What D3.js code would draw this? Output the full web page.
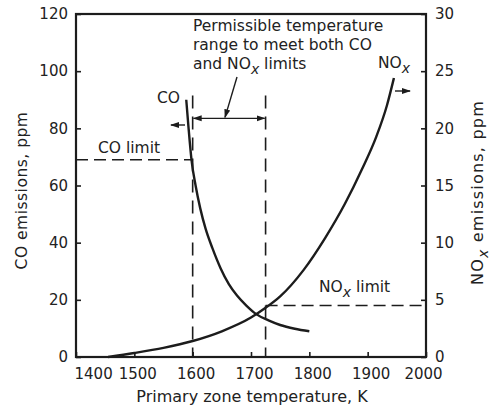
<!DOCTYPE html>
<html>
<head>
<meta charset="utf-8">
<script src="https://cdn.jsdelivr.net/npm/d3@7"></script>
<style>
body { margin: 0; background: #fff; }
text { font-family: "DejaVu Sans", sans-serif; fill: #222; }
</style>
</head>
<body>
<div id="chart"></div>
<script>
// CO emissions (ppm, left axis) vs primary zone temperature (K)
const coTemp = [1589, 1593, 1598, 1605, 1613, 1622, 1634, 1648, 1662, 1676, 1692, 1709, 1730, 1750, 1775, 1800];
const coPpm  = [90, 80, 69, 60, 52, 45, 38, 31, 25.5, 21.5, 18, 15, 12.8, 11.2, 9.9, 9];

// NOx emissions (ppm, right axis)
const noxTemp = [1455, 1500, 1550, 1600, 1650, 1700, 1725, 1750, 1790, 1827, 1861, 1890, 1915, 1933, 1945];
const noxPpm  = [0, 0.35, 0.8, 1.4, 2.25, 3.45, 4.3, 5.3, 7.6, 10.4, 13.4, 16.4, 19.3, 22.0, 24.4];

const xTicks   = [1400, 1500, 1600, 1700, 1800, 1900, 2000];
const coTicks  = [0, 20, 40, 60, 80, 100, 120];
const noxTicks = [0, 5, 10, 15, 20, 25, 30];

const coLimit = 69;
const noxLimit = 4.5;
const permissible = [1600, 1725];

const width = 493, height = 409;
const margin = {top: 14, right: 67, bottom: 52, left: 76};
const x0 = margin.left, x1 = width - margin.right;
const y0 = height - margin.bottom, y1 = margin.top;

const svg = d3.select("#chart").append("svg")
    .attr("width", width)
    .attr("height", height);

svg.append("rect").attr("width", width).attr("height", height).attr("fill", "#fff");

const x = d3.scaleLinear().domain([1400, 2000]).range([x0, x1]);
const yL = d3.scaleLinear().domain([0, 120]).range([y0, y1]);
const yR = d3.scaleLinear().domain([0, 30]).range([y0, y1]);

const ink = "#1c1c1c";

// arrowhead
svg.append("defs").append("marker")
    .attr("id", "arrow")
    .attr("viewBox", "0 -4 9 8")
    .attr("refX", 8).attr("refY", 0)
    .attr("markerWidth", 9).attr("markerHeight", 8)
    .attr("markerUnits", "userSpaceOnUse")
    .attr("orient", "auto-start-reverse")
    .append("path")
    .attr("d", "M0,-3L9,0L0,3Z")
    .attr("fill", ink);

// axes
function styleAxis(g) {
    g.select(".domain").remove();
    g.selectAll(".tick line").attr("stroke", ink).attr("stroke-width", 1.6);
    g.selectAll("text").attr("font-size", 15);
}

svg.append("g")
    .attr("transform", `translate(0,${y0})`)
    .call(d3.axisBottom(x).tickValues(xTicks).tickFormat(d3.format("d"))
        .tickSize(-5).tickSizeOuter(0).tickPadding(11))
    .call(styleAxis)
    .call(g => {
        g.selectAll(".tick text").attr("dx", 3);
        g.selectAll(".tick text").filter(d => d === 1400).attr("text-anchor", "start").attr("dx", -2);
        g.selectAll(".tick text").filter(d => d === 2000).attr("dx", -3);
    });

svg.append("g")
    .attr("transform", `translate(${x0},0)`)
    .call(d3.axisLeft(yL).tickValues(coTicks).tickSize(-5).tickSizeOuter(0).tickPadding(8))
    .call(styleAxis);

svg.append("g")
    .attr("transform", `translate(${x1},0)`)
    .call(d3.axisRight(yR).tickValues(noxTicks).tickSize(-5).tickSizeOuter(0).tickPadding(9))
    .call(styleAxis);

svg.append("rect")
    .attr("x", x0).attr("y", y1)
    .attr("width", x1 - x0).attr("height", y0 - y1)
    .attr("fill", "none").attr("stroke", ink).attr("stroke-width", 2.2);

// axis titles
svg.append("text")
    .attr("x", (x0 + x1) / 2 + 1).attr("y", 402)
    .attr("text-anchor", "middle")
    .attr("font-size", 16)
    .text("Primary zone temperature, K");

svg.append("text")
    .attr("transform", `translate(27,${(y0 + y1) / 2 + 5}) rotate(-90)`)
    .attr("text-anchor", "middle")
    .attr("font-size", 15.5)
    .attr("letter-spacing", 0.5)
    .text("CO emissions, ppm");

const rt = svg.append("text")
    .attr("transform", `translate(483,${(y0 + y1) / 2 + 7}) rotate(-90)`)
    .attr("text-anchor", "middle")
    .attr("font-size", 16)
    .attr("letter-spacing", 1.2);
rt.append("tspan").text("NO");
rt.append("tspan").attr("dy", 5).attr("font-size", 14).attr("font-style", "italic").text("x");
rt.append("tspan").attr("dy", -5).text(" emissions, ppm");

// limit lines
const crossT = (() => {
    for (let i = 1; i < coPpm.length; i++) {
        if (coPpm[i] <= coLimit) {
            const t = (coPpm[i - 1] - coLimit) / (coPpm[i - 1] - coPpm[i]);
            return coTemp[i - 1] + t * (coTemp[i] - coTemp[i - 1]);
        }
    }
})();

svg.append("line")
    .attr("x1", x0).attr("x2", x(crossT))
    .attr("y1", yL(coLimit)).attr("y2", yL(coLimit))
    .attr("stroke", ink).attr("stroke-width", 1.6).attr("stroke-dasharray", "12,6");

svg.append("line")
    .attr("x1", x(permissible[1])).attr("x2", x1)
    .attr("y1", yR(noxLimit)).attr("y2", yR(noxLimit))
    .attr("stroke", ink).attr("stroke-width", 1.6).attr("stroke-dasharray", "12,6");

// permissible range bounds
const dashTop = yL(91.5);
permissible.forEach(t => {
    svg.append("line")
        .attr("x1", x(t)).attr("x2", x(t))
        .attr("y1", dashTop).attr("y2", y0)
        .attr("stroke", ink).attr("stroke-width", 1.6).attr("stroke-dasharray", "13,8");
});

// curves
const line = d3.line().curve(d3.curveMonotoneX);

svg.append("path")
    .attr("d", line(coTemp.map((t, i) => [x(t), yL(coPpm[i])])))
    .attr("fill", "none").attr("stroke", ink).attr("stroke-width", 2.4);

svg.append("path")
    .attr("d", line(noxTemp.map((t, i) => [x(t), yR(noxPpm[i])])))
    .attr("fill", "none").attr("stroke", ink).attr("stroke-width", 2.4);

// annotations
const arrowY = yL(83.5);
svg.append("line")
    .attr("x1", x(permissible[0]) + 1).attr("x2", x(permissible[1]) - 1)
    .attr("y1", arrowY).attr("y2", arrowY)
    .attr("stroke", ink).attr("stroke-width", 1.4)
    .attr("marker-start", "url(#arrow)").attr("marker-end", "url(#arrow)");

svg.append("line")
    .attr("x1", 237).attr("y1", 77).attr("x2", 225).attr("y2", arrowY - 1)
    .attr("stroke", ink).attr("stroke-width", 1.4)
    .attr("marker-end", "url(#arrow)");

svg.append("line")
    .attr("x1", 185).attr("y1", 125).attr("x2", 171).attr("y2", 125)
    .attr("stroke", ink).attr("stroke-width", 1.4)
    .attr("marker-end", "url(#arrow)");

svg.append("line")
    .attr("x1", 395).attr("y1", 91).attr("x2", 410).attr("y2", 91)
    .attr("stroke", ink).attr("stroke-width", 1.4)
    .attr("marker-end", "url(#arrow)");

const note = svg.append("g").attr("font-size", 15.5);
note.append("text").attr("x", 193).attr("y", 30.5).text("Permissible temperature");
note.append("text").attr("x", 193).attr("y", 50).text("range to meet both CO");
const l3 = note.append("text").attr("x", 193).attr("y", 69);
l3.append("tspan").text("and NO");
l3.append("tspan").attr("dy", 5).attr("font-size", 14).attr("font-style", "italic").text("x");
l3.append("tspan").attr("dy", -5).text(" limits");

note.append("text").attr("x", 157).attr("y", 103).text("CO");
note.append("text").attr("x", 98).attr("y", 153).text("CO limit");

const nl = note.append("text").attr("x", 378).attr("y", 68);
nl.append("tspan").text("NO");
nl.append("tspan").attr("dy", 5).attr("font-size", 14).attr("font-style", "italic").text("x");

const nlim = note.append("text").attr("x", 319).attr("y", 292);
nlim.append("tspan").text("NO");
nlim.append("tspan").attr("dy", 5).attr("font-size", 14).attr("font-style", "italic").text("x");
nlim.append("tspan").attr("dy", -5).text(" limit");
</script>
</body>
</html>
